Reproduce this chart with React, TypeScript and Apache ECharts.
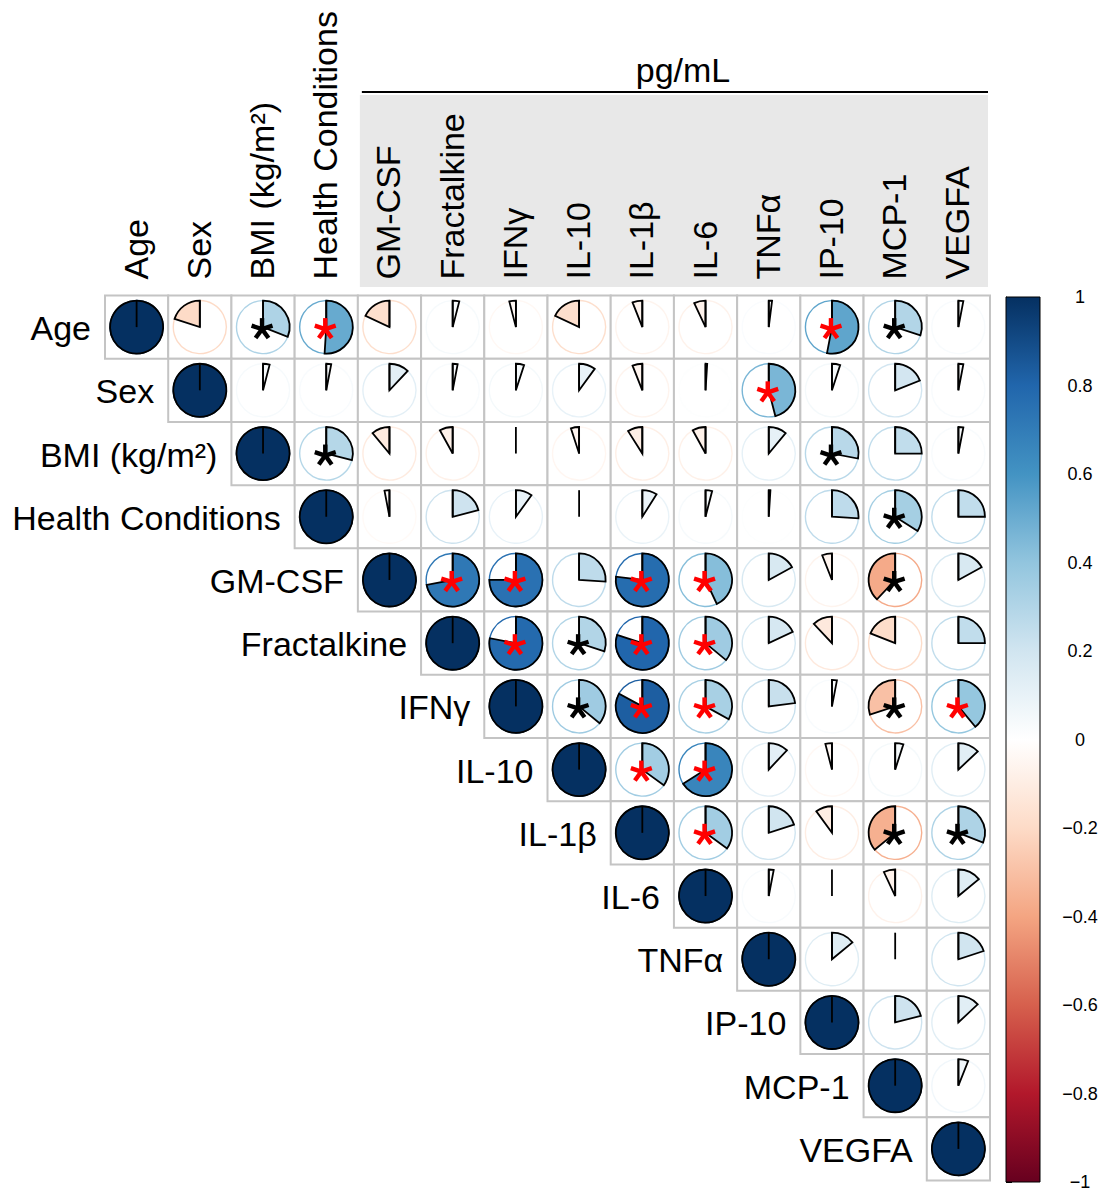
import React, { useEffect, useRef } from "react";
import * as echarts from "echarts";

// ---- variables (rows = columns) ----
const variables = [
  "Age",
  "Sex",
  "BMI (kg/m²)",
  "Health Conditions",
  "GM-CSF",
  "Fractalkine",
  "IFNγ",
  "IL-10",
  "IL-1β",
  "IL-6",
  "TNFα",
  "IP-10",
  "MCP-1",
  "VEGFA",
];

// ---- correlation coefficients, upper triangle (each row starts at its diagonal) ----
const rowAge = [1, -0.2, 0.31, 0.51, -0.18, 0.04, -0.04, -0.18, -0.06, -0.07, 0.02, 0.53, 0.3, 0.03];
const rowSex = [1, 0.04, 0.03, 0.12, 0.03, 0.05, 0.1, -0.06, 0.01, 0.46, 0.05, 0.19, 0.03];
const rowBMI = [1, 0.29, -0.11, -0.08, 0.0, -0.05, -0.09, -0.08, 0.11, 0.28, 0.25, 0.03];
const rowHealth = [1, -0.03, 0.21, 0.1, 0.0, 0.09, 0.04, 0.01, 0.26, 0.34, 0.25];
const rowGMCSF = [1, 0.72, 0.75, 0.26, 0.77, 0.43, 0.17, -0.06, -0.38, 0.17];
const rowFractalkine = [1, 0.78, 0.3, 0.8, 0.36, 0.18, -0.12, -0.19, 0.25];
const rowIFNg = [1, 0.36, 0.83, 0.33, 0.23, 0.03, -0.3, 0.39];
const rowIL10 = [1, 0.35, 0.66, 0.12, -0.04, 0.05, 0.13];
const rowIL1b = [1, 0.35, 0.2, -0.1, -0.36, 0.31];
const rowIL6 = [1, 0.03, 0.0, -0.07, 0.14];
const rowTNFa = [1, 0.14, 0.0, 0.2];
const rowIP10 = [1, 0.21, 0.13];
const rowMCP1 = [1, 0.06];
const rowVEGFA = [1];

const upperRows = [
  rowAge, rowSex, rowBMI, rowHealth, rowGMCSF, rowFractalkine, rowIFNg,
  rowIL10, rowIL1b, rowIL6, rowTNFa, rowIP10, rowMCP1, rowVEGFA,
];

// ---- significance markers ----
const redStarCells = [
  ["Age", "Health Conditions"], ["Age", "IP-10"], ["Sex", "TNFα"],
  ["GM-CSF", "Fractalkine"], ["GM-CSF", "IFNγ"], ["GM-CSF", "IL-1β"], ["GM-CSF", "IL-6"],
  ["Fractalkine", "IFNγ"], ["Fractalkine", "IL-1β"], ["Fractalkine", "IL-6"],
  ["IFNγ", "IL-1β"], ["IFNγ", "IL-6"], ["IFNγ", "VEGFA"],
  ["IL-10", "IL-1β"], ["IL-10", "IL-6"], ["IL-1β", "IL-6"],
];
const blackStarCells = [
  ["Age", "BMI (kg/m²)"], ["Age", "MCP-1"], ["BMI (kg/m²)", "Health Conditions"],
  ["BMI (kg/m²)", "IP-10"], ["Health Conditions", "MCP-1"], ["GM-CSF", "MCP-1"],
  ["Fractalkine", "IL-10"], ["IFNγ", "IL-10"], ["IFNγ", "MCP-1"],
  ["IL-1β", "MCP-1"], ["IL-1β", "VEGFA"],
];

// ---- colour bar ticks and the grouped-column header ----
const colorbarTicks = [-1, -0.8, -0.6, -0.4, -0.2, 0, 0.2, 0.4, 0.6, 0.8, 1];
const headerLabel = "pg/mL";
const headerFirstColumn = "GM-CSF";

// RdBu diverging palette from -1 to 1
const palette = [
  "#67001F", "#B2182B", "#D6604D", "#F4A582", "#FDDBC7", "#FFFFFF",
  "#D1E5F0", "#92C5DE", "#4393C3", "#2166AC", "#053061",
];

const FONT = '"Liberation Sans", Arial, Helvetica, sans-serif';

// layout
const GRID_LEFT = 105;
const GRID_TOP = 295.5;
const GRID_SIZE = 885;
const CELL = GRID_SIZE / variables.length;

function hexToRgb(h: string) {
  const n = parseInt(h.slice(1), 16);
  return [(n >> 16) & 255, (n >> 8) & 255, n & 255];
}

function colorFor(v: number) {
  const t = ((Math.max(-1, Math.min(1, v)) + 1) / 2) * (palette.length - 1);
  const k = Math.min(Math.floor(t), palette.length - 2);
  const f = t - k;
  const a = hexToRgb(palette[k]);
  const b = hexToRgb(palette[k + 1]);
  const c = a.map((x, i) => Math.round(x + (b[i] - x) * f));
  return `rgb(${c[0]},${c[1]},${c[2]})`;
}

function sigLevel(r: number, c: number) {
  const rn = variables[r];
  const cn = variables[c];
  if (redStarCells.some(([a, b]) => a === rn && b === cn)) return 2;
  if (blackStarCells.some(([a, b]) => a === rn && b === cn)) return 1;
  return 0;
}

function buildCells() {
  const out: number[][] = [];
  upperRows.forEach((row, i) => {
    row.forEach((v, k) => {
      const j = i + k;
      out.push([j, i, v, sigLevel(i, j)]);
    });
  });
  return out;
}

function asterisk(cx: number, cy: number, color: string) {
  const arm = 11;
  const children: any[] = [];
  for (let a = 0; a < 5; a++) {
    const ang = -Math.PI / 2 + (a * 2 * Math.PI) / 5;
    children.push({
      type: "line",
      shape: { x1: cx, y1: cy, x2: cx + arm * Math.cos(ang), y2: cy + arm * Math.sin(ang) },
      style: { stroke: color, lineWidth: 4.4, lineCap: "butt" },
    });
  }
  return { type: "group", children };
}

export default function App() {
  const ref = useRef<HTMLDivElement>(null);

  useEffect(() => {
    document.body.style.margin = "0";
    if (!ref.current) return;
    const chart = echarts.init(ref.current, null, { renderer: "svg" });

    const cells = buildCells();
    const labelData = variables.map((_, i) => [i, i]);

    const gradientStops = palette
      .slice()
      .reverse()
      .map((c, i) => ({ offset: i / (palette.length - 1), color: c }));

    const firstHeaderIdx = variables.indexOf(headerFirstColumn);
    const headerLeft = GRID_LEFT + firstHeaderIdx * CELL;
    const headerRight = GRID_LEFT + GRID_SIZE;

    const textStyle = (text: string, align: string) => ({
      text,
      align,
      verticalAlign: "middle",
      fontSize: 34,
      fontFamily: FONT,
      fill: "#000",
    });

    const option: any = {
      animation: false,
      backgroundColor: "#ffffff",
      textStyle: { fontFamily: FONT },
      grid: [
        { left: GRID_LEFT, top: GRID_TOP, width: GRID_SIZE, height: GRID_SIZE },
        { left: 1006, top: 297, width: 34, height: 885 },
      ],
      xAxis: [
        {
          type: "category",
          gridIndex: 0,
          data: variables,
          position: "top",
          show: false,
        },
        { type: "value", gridIndex: 1, min: 0, max: 1, show: false },
      ],
      yAxis: [
        {
          type: "category",
          gridIndex: 0,
          data: variables,
          inverse: true,
          show: false,
        },
        {
          type: "value",
          gridIndex: 1,
          min: -1,
          max: 1,
          interval: 0.2,
          position: "right",
          axisLine: { show: true, lineStyle: { color: "#000", width: 1 } },
          axisTick: { show: true, length: 6, lineStyle: { color: "#000", width: 1 } },
          splitLine: { show: false },
          axisLabel: {
            margin: 40,
            align: "center",
            fontSize: 18,
            color: "#000",
            fontFamily: FONT,
            customValues: colorbarTicks,
            formatter: (v: number) => {
              const r = Math.round(v * 10) / 10;
              return r < 0 ? "\u2212" + Math.abs(r) : String(r);
            },
          },
        },
      ],
      graphic: [
        {
          type: "rect",
          z: -10,
          shape: { x: headerLeft + 2, y: 95, width: headerRight - headerLeft - 4, height: 192 },
          style: { fill: "#E8E8E8" },
        },
        {
          type: "line",
          shape: { x1: headerLeft + 4, y1: 92, x2: headerRight - 2, y2: 92 },
          style: { stroke: "#000", lineWidth: 2 },
        },
        {
          type: "text",
          x: 683,
          y: 70,
          style: {
            text: headerLabel,
            fontSize: 34,
            fontFamily: FONT,
            fill: "#000",
            align: "center",
            verticalAlign: "middle",
          },
        },
      ],
      series: [
        {
          type: "custom",
          name: "correlation",
          xAxisIndex: 0,
          yAxisIndex: 0,
          clip: false,
          data: cells,
          encode: { x: 0, y: 1 },
          renderItem: (params: any, api: any) => {
            const j = api.value(0);
            const i = api.value(1);
            const v = api.value(2);
            const sig = api.value(3);
            const c = api.coord([j, i]);
            const s = api.size([1, 1]);
            const cw = s[0];
            const ch = s[1];
            const r = cw * 0.42;
            const col = colorFor(v);
            const top = -Math.PI / 2;
            let start = top;
            let end = top + 2 * Math.PI * v;
            if (v < 0) {
              start = top + 2 * Math.PI * v;
              end = top;
            }
            const children: any[] = [
              {
                type: "rect",
                shape: { x: c[0] - cw / 2, y: c[1] - ch / 2, width: cw, height: ch },
                style: { fill: "#fff", stroke: "#C4C4C4", lineWidth: 2 },
              },
              {
                type: "circle",
                shape: { cx: c[0], cy: c[1], r },
                style: { fill: "none", stroke: col, lineWidth: 1.4 },
              },
            ];
            if (Math.abs(v) > 0.001) {
              children.push({
                type: "sector",
                shape: { cx: c[0], cy: c[1], r0: 0, r, startAngle: start, endAngle: end, clockwise: true },
                style: { fill: col, stroke: "#000", lineWidth: 1.8, lineJoin: "miter" },
              });
            }
            children.push({
              type: "line",
              shape: { x1: c[0], y1: c[1], x2: c[0], y2: c[1] - r },
              style: { stroke: "#000", lineWidth: 1.8 },
            });
            if (sig > 0) {
              children.push(asterisk(c[0] - 1, c[1] + 2, sig === 2 ? "#FF0000" : "#000000"));
            }
            return { type: "group", children };
          },
          z: 2,
        },
        {
          type: "custom",
          name: "row labels",
          xAxisIndex: 0,
          yAxisIndex: 0,
          clip: false,
          data: labelData,
          encode: { x: 0, y: 1 },
          renderItem: (params: any, api: any) => {
            const i = api.value(0);
            const c = api.coord([i, i]);
            const cw = api.size([1, 1])[0];
            return {
              type: "text",
              x: c[0] - cw / 2 - 14,
              y: c[1] + 1,
              style: textStyle(variables[params.dataIndex], "right"),
            };
          },
          z: 3,
        },
        {
          type: "custom",
          name: "column labels",
          xAxisIndex: 0,
          yAxisIndex: 0,
          clip: false,
          data: labelData,
          encode: { x: 0, y: 1 },
          renderItem: (params: any, api: any) => {
            const i = api.value(0);
            const c = api.coord([i, 0]);
            const ch = api.size([1, 1])[1];
            return {
              type: "text",
              x: c[0] - 1,
              y: c[1] - ch / 2 - 16,
              rotation: Math.PI / 2,
              style: textStyle(variables[params.dataIndex], "left"),
            };
          },
          z: 3,
        },
        {
          type: "custom",
          name: "colour bar",
          xAxisIndex: 1,
          yAxisIndex: 1,
          clip: false,
          data: [[0, 1]],
          encode: { x: 0, y: 1 },
          renderItem: (params: any, api: any) => {
            const p0 = api.coord([0, 1]);
            const p1 = api.coord([1, -1]);
            return {
              type: "rect",
              shape: { x: p0[0], y: p0[1], width: p1[0] - p0[0], height: p1[1] - p0[1] },
              style: {
                fill: new echarts.graphic.LinearGradient(0, 0, 0, 1, gradientStops),
                stroke: "#000",
                lineWidth: 1,
              },
            };
          },
          z: 1,
        },
      ],
    };

    chart.setOption(option);
    return () => chart.dispose();
  }, []);

  return <div ref={ref} style={{ width: 1106, height: 1191 }} />;
}
